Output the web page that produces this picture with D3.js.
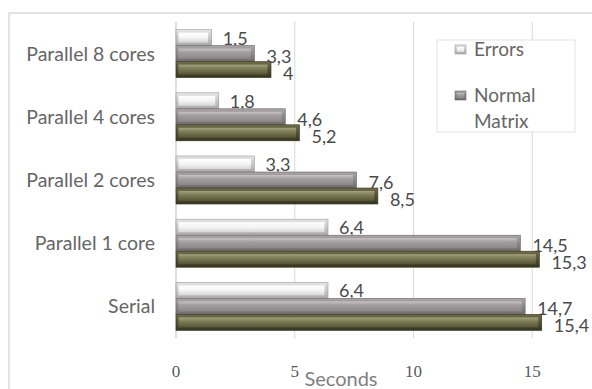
<!DOCTYPE html>
<html><head><meta charset="utf-8">
<script src="https://cdn.jsdelivr.net/npm/d3@7"></script>
<style>body{margin:0;background:#fff;}svg{display:block;}</style>
</head><body>
<svg id="c" width="592" height="389"></svg>
<script>
const categories = ["Parallel 8 cores","Parallel 4 cores","Parallel 2 cores","Parallel 1 core","Serial"];
const errors = [1.5, 1.8, 3.3, 6.4, 6.4];
const middle = [3.3, 4.6, 7.6, 14.5, 14.7];
const normalMatrix = [4, 5.2, 8.5, 15.3, 15.4];
const seriesNames = ["Errors", "", "Normal Matrix"];
const tickValues = [0, 5, 10, 15];
const axisMax = 20;
const axisTitle = "Seconds";

const svg = d3.select("#c");
const defs = svg.append("defs");
function grad(id, stops){
  const g = defs.append("linearGradient").attr("id", id).attr("x1",0).attr("y1",0).attr("x2",0).attr("y2",1);
  stops.forEach(s => g.append("stop").attr("offset", s[0]).attr("stop-color", s[1]));
}
grad("eOut", [[0,"#e6e6e6"],[1,"#a9a9a9"]]);
grad("eIn", [[0,"#ffffff"],[0.5,"#f4f4f4"],[1,"#d6d6d6"]]);
grad("mOut", [[0,"#aaa5a6"],[1,"#6f6a6b"]]);
grad("mIn", [[0,"#c9c5c6"],[0.35,"#a39e9f"],[1,"#8c8788"]]);
grad("nOut", [[0,"#6e6c4a"],[1,"#36351f"]]);
grad("nIn", [[0,"#a6a37f"],[0.3,"#85835e"],[0.7,"#6a6845"],[1,"#555336"]]);
const styles = [["eOut","eIn","#9a9a9a"],["mOut","mIn","#6a6566"],["nOut","nIn","#34331d"]];

// chart border
svg.append("rect").attr("x",9).attr("y",13).attr("width",640).attr("height",420)
  .attr("fill","none").attr("stroke","#d9d9d9").attr("stroke-width",1.5);

const x = d3.scaleLinear().domain([0,axisMax]).range([176, 651]);
const y = d3.scaleBand().domain(categories).range([22, 338]).paddingInner(0.24).paddingOuter(0.12);
const inner = d3.scaleBand().domain([0,1,2]).range([0, y.bandwidth()]);

// gridlines
svg.append("g").selectAll("line").data(tickValues.filter(v=>v>0)).join("line")
  .attr("x1", d=>x(d)).attr("x2", d=>x(d)).attr("y1",22).attr("y2",338)
  .attr("stroke","#d9d9d9").attr("stroke-width",1);
svg.append("line").attr("x1",x(0)).attr("x2",x(0)).attr("y1",22).attr("y2",338)
  .attr("stroke","#bfbfbf").attr("stroke-width",1);

const allSeries = [errors, middle, normalMatrix];
allSeries.forEach((vals, si) => {
  const g = svg.append("g");
  const data = categories.map((c,i)=>({c, v: vals[i]}));
  const bars = g.selectAll("g").data(data).join("g");
  bars.append("rect")
    .attr("x", x(0)).attr("y", d=>y(d.c)+inner(si))
    .attr("width", d=>x(d.v)-x(0)).attr("height", inner.bandwidth())
    .attr("fill", `url(#${styles[si][0]})`).attr("stroke", styles[si][2]).attr("stroke-width",0.6);
  bars.append("rect")
    .attr("x", x(0)+2.5).attr("y", d=>y(d.c)+inner(si)+3)
    .attr("width", d=>Math.max(0, x(d.v)-x(0)-6)).attr("height", inner.bandwidth()-6)
    .attr("fill", `url(#${styles[si][1]})`);
  bars.append("text")
    .attr("x", d=>x(d.v)+ (si===0?11:12))
    .attr("y", d=>y(d.c)+inner(si)+inner.bandwidth()/2 + 7 + (si===0?0:(si===1?2:3)))
    .attr("font-family","Lato").attr("font-size",18).attr("fill","#4a4a4a")
    .text(d=>String(d.v).replace(".", ","));
});

// category labels
svg.append("g").selectAll("text").data(categories).join("text")
  .attr("x",155).attr("y", d=>y(d)+y.bandwidth()/2+7)
  .attr("text-anchor","end").attr("font-family","Lato").attr("font-size",19.5).attr("fill","#666666")
  .text(d=>d);

// x tick labels
svg.append("g").selectAll("text").data(tickValues).join("text")
  .attr("x", d=>x(d)).attr("y", 377)
  .attr("text-anchor","middle").attr("font-family","Liberation Serif").attr("font-size",17).attr("fill","#595959")
  .text(d=>d);

svg.append("text").attr("x",341).attr("y",386).attr("text-anchor","middle")
  .attr("font-family","Lato").attr("font-size",20).attr("fill","#7f7f7f").text(axisTitle);

// legend
const lg = svg.append("g");
lg.append("rect").attr("x",437).attr("y",40).attr("width",138).attr("height",92)
  .attr("fill","#fff").attr("stroke","#e3e3e3").attr("stroke-width",1);
const legendItems = [
  {name: seriesNames[0], s: 0, y: 56},
  {name: seriesNames[2], s: 1, y: 102}
];
legendItems.forEach(it => {
  lg.append("rect").attr("x",455).attr("y",it.y-11).attr("width",11).attr("height",9)
    .attr("fill", `url(#${styles[it.s][0]})`).attr("stroke", styles[it.s][2]).attr("stroke-width",0.6);
  lg.append("rect").attr("x",457).attr("y",it.y-9).attr("width",7).attr("height",5)
    .attr("fill", `url(#${styles[it.s][1]})`);
  const words = it.name.split(" ");
  const t = lg.append("text").attr("x",474).attr("y",it.y).attr("font-family","Lato")
    .attr("font-size",19).attr("fill","#666666");
  words.forEach((w,i)=> t.append("tspan").attr("x",474).attr("dy", i===0?0:25.5).text(w));
});
</script>
</body></html>
